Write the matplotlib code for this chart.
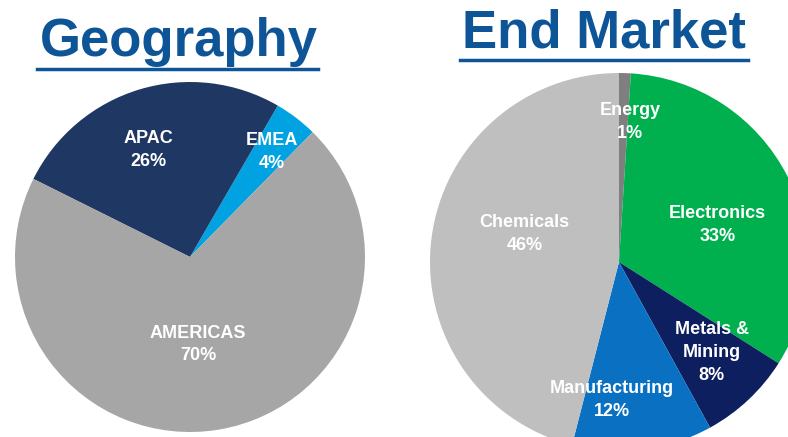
import matplotlib.pyplot as plt

# Geography split
geo_labels = ['EMEA', 'APAC', 'AMERICAS']
geo_values = [4, 26, 70]
geo_colors = ['#00A2E1', '#1F3763', '#A6A6A6']

# End market split (clockwise from top)
mkt_labels = ['Energy', 'Electronics', 'Metals &\nMining', 'Manufacturing', 'Chemicals']
mkt_values = [1, 33, 8, 12, 46]
mkt_colors = ['#7F7F7F', '#00B04F', '#0D1F5E', '#0A70C2', '#BFBFBF']

# label anchor points, in pie-radius units
geo_label_pos = [(0.47, 0.60), (-0.24, 0.61), (0.046, -0.50)]
mkt_label_pos = [(0.058, 0.74), (0.52, 0.196), (0.49, -0.48), (-0.037, -0.73), (-0.50, 0.148)]

W, H = 788, 437
title_color = '#0E5597'
plt.rcParams['font.family'] = ['Liberation Sans', 'DejaVu Sans']

fig = plt.figure(figsize=(W / 100, H / 100), dpi=100)


def pie_axes(cx, cy, r):
    ax = fig.add_axes([(cx - r) / W, (H - cy - r) / H, 2 * r / W, 2 * r / H])
    ax.set_xlim(-1, 1)
    ax.set_ylim(-1, 1)
    ax.axis('off')
    return ax


def draw_pie(ax, labels, values, colors, positions, start, clockwise):
    ax.pie(values, colors=colors, startangle=start, counterclock=not clockwise,
           radius=1, wedgeprops=dict(linewidth=0))
    for lab, val, (x, y) in zip(labels, values, positions):
        ax.text(x, y, f'{lab}\n{val}%', ha='center', va='center', color='white',
                fontsize=13, fontweight='bold', linespacing=1.45)
    ax.set_xlim(-1, 1)
    ax.set_ylim(-1, 1)


ax1 = pie_axes(190, 257, 175)
draw_pie(ax1, geo_labels, geo_values, geo_colors, geo_label_pos, 45.5, False)

ax2 = pie_axes(619, 262, 189)
draw_pie(ax2, mkt_labels, mkt_values, mkt_colors, mkt_label_pos, 90, True)


def title(x, y, txt, x0, x1, uy):
    fig.text(x / W, 1 - y / H, txt, ha='center', va='baseline', fontsize=38,
             fontweight='bold', color=title_color)
    fig.add_artist(plt.Line2D([x0 / W, x1 / W], [1 - uy / H, 1 - uy / H],
                              color=title_color, linewidth=2.5))


title(179, 56, 'Geography', 37, 318, 69)
title(604, 48, 'End Market', 460, 748, 60)

fig.savefig('out.png', dpi=100)
